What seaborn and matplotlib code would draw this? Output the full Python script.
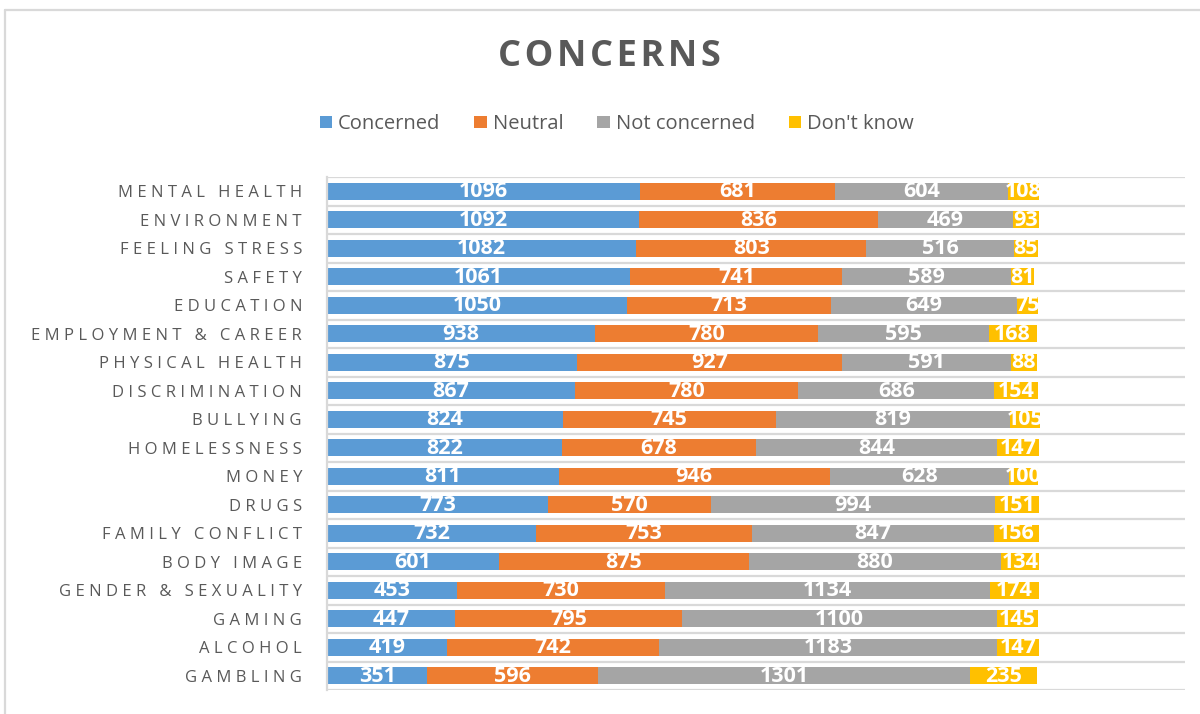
import numpy as np
import pandas as pd
import matplotlib
matplotlib.use("Agg")
import matplotlib.pyplot as plt
from matplotlib.patches import Patch
import seaborn as sns

# Survey data: number of respondents per response, by concern
categories = ["MENTAL HEALTH", "ENVIRONMENT", "FEELING STRESS", "SAFETY", "EDUCATION",
              "EMPLOYMENT & CAREER", "PHYSICAL HEALTH", "DISCRIMINATION", "BULLYING",
              "HOMELESSNESS", "MONEY", "DRUGS", "FAMILY CONFLICT", "BODY IMAGE",
              "GENDER & SEXUALITY", "GAMING", "ALCOHOL", "GAMBLING"]
concerned = [1096, 1092, 1082, 1061, 1050, 938, 875, 867, 824, 822, 811, 773, 732, 601, 453, 447, 419, 351]
neutral = [681, 836, 803, 741, 713, 780, 927, 780, 745, 678, 946, 570, 753, 875, 730, 795, 742, 596]
not_concerned = [604, 469, 516, 589, 649, 595, 591, 686, 819, 844, 628, 994, 847, 880, 1134, 1100, 1183, 1301]
dont_know = [108, 93, 85, 81, 75, 168, 88, 154, 105, 147, 100, 151, 156, 134, 174, 145, 147, 235]

series_names = ["Concerned", "Neutral", "Not concerned", "Don't know"]
colors = ["#5B9BD5", "#ED7D31", "#A5A5A5", "#FFC000"]
TEXT = "#595959"
GRID = "#D9D9D9"

sns.set_theme(style="white")
plt.rcParams["font.family"] = ["Open Sans", "DejaVu Sans"]


def spaced(s, gap="\u2009"):
    """Emulate letter spacing by inserting thin spaces between characters."""
    return gap.join(s)


df = pd.DataFrame({"category": categories,
                   "Concerned": concerned, "Neutral": neutral,
                   "Not concerned": not_concerned, "Don't know": dont_know})
values = df[series_names].to_numpy(dtype=float)
cum = np.cumsum(values, axis=1)
for i, name in enumerate(series_names):
    df["cum_" + name] = cum[:, i]

fig = plt.figure(figsize=(12, 7.14), dpi=100)
ax = fig.add_axes([0.2725, 0.0336, 0.715, 0.7185])

# Stacked bars: draw cumulative totals from largest to smallest
for i in range(len(series_names) - 1, -1, -1):
    sns.barplot(data=df, y="category", x="cum_" + series_names[i], orient="h",
                color=colors[i], width=0.6, saturation=1, ax=ax, linewidth=0,
                order=categories)

# Value labels centred in each segment
for r in range(len(categories)):
    for i in range(len(series_names)):
        centre = cum[r, i] - values[r, i] / 2
        ax.text(centre, r + 0.02, f"{int(values[r, i])}", ha="center", va="center",
                color="white", fontsize=15.5, fontweight="bold", zorder=5)

ax.set_xlim(0, 3000)
ax.set_ylim(len(categories) - 0.5, -0.5)
ax.set_xlabel("")
ax.set_ylabel("")
ax.set_xticks([])
ax.set_yticks(range(len(categories)))
ax.set_yticklabels([spaced(c, "\u2009\u200a") for c in categories], fontsize=12, color=TEXT)
ax.tick_params(axis="y", length=0, pad=18)

# Horizontal separators between categories
ax.set_yticks(np.arange(-0.5, len(categories), 1), minor=True)
ax.tick_params(axis="y", which="minor", length=0)
ax.grid(which="minor", axis="y", color=GRID, linewidth=1.6)
ax.set_axisbelow(True)
for side in ["top", "right", "bottom"]:
    ax.spines[side].set_visible(False)
ax.spines["left"].set_color(GRID)
ax.spines["left"].set_linewidth(1.6)

# Title and legend
fig.text(0.508, 1 - 57 / 714, spaced("CONCERNS", "\u200a"), ha="center", va="center",
         fontsize=26, fontweight="bold", color=TEXT)
handles = [Patch(facecolor=c, edgecolor="none", label=n) for n, c in zip(series_names, colors)]
fig.legend(handles=handles, loc="center", bbox_to_anchor=(0.514, 1 - 124 / 714), ncol=4,
           frameon=False, fontsize=14.5, handlelength=0.6, handleheight=0.6,
           handletextpad=0.3, columnspacing=1.7, labelcolor=TEXT)

# Chart area border (top and left edges)
fig.add_artist(plt.Line2D([5 / 1200, 1], [1 - 10 / 714, 1 - 10 / 714],
                          transform=fig.transFigure, color=GRID, linewidth=1.6))
fig.add_artist(plt.Line2D([5 / 1200, 5 / 1200], [0, 1 - 10 / 714],
                          transform=fig.transFigure, color=GRID, linewidth=1.6))

fig.savefig("out.png", dpi=100)
